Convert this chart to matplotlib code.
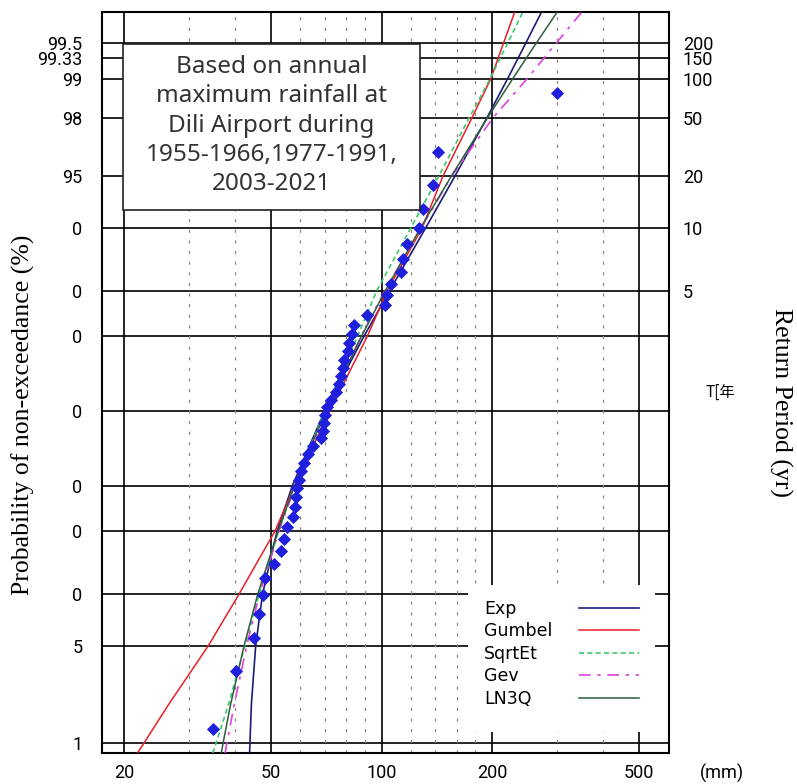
import numpy as np
import matplotlib
matplotlib.use('Agg')
import matplotlib.pyplot as plt
from matplotlib.lines import Line2D
from matplotlib.patches import Rectangle
from matplotlib.ticker import NullLocator
from statistics import NormalDist

# 年最大降雨量 (mm), sorted, Dili Airport
rain_mm = [34.9, 40.2, 45.0, 46.4, 47.5, 48.1, 51.1, 53.2, 54.3, 55.4,
           57.6, 58.2, 58.6, 58.8, 59.5, 60.3, 61.6, 63.3, 65.2, 68.6,
           69.5, 69.7, 70.2, 70.9, 73.0, 75.3, 76.6, 77.7, 78.5, 79.2,
           81.0, 81.7, 83.0, 84.4, 91.3, 102.2, 103.3, 106.1, 113.3, 114.6,
           117.0, 126.5, 129.8, 138.0, 142.5, 299.7]

# fitted curves at these non-exceedance probabilities (%)
curve_p = [0.83, 1, 2, 5, 10, 20, 30, 50, 70, 80, 90, 95, 98, 99, 99.5, 99.74]
exp_mm = [43.8, 43.9, 44.3, 45.5, 47.5, 52.0, 57.2, 70.0, 89.6, 105.1,
          131.7, 158.2, 193.3, 219.9, 246.4, 272.0]
gumbel_mm = [21.7, 22.6, 26.4, 33.8, 41.0, 51.3, 58.0, 72.3, 91.5, 103.5,
             128.8, 146.8, 176.0, 198.0, 214.4, 230.0]
sqrtet_mm = [34.8, 35.5, 38.4, 42.5, 46.5, 52.5, 58.0, 70.0, 86.0, 97.0,
             120.0, 143.0, 173.0, 197.0, 220.0, 242.0]
gev_mm = [37.6, 38.0, 39.8, 43.0, 46.6, 52.6, 58.3, 70.8, 88.0, 102.0,
          128.0, 155.0, 200.7, 248.4, 298.0, 350.0]
ln3q_mm = [36.7, 37.1, 38.9, 42.3, 46.1, 52.3, 58.0, 70.5, 88.2, 102.3,
           127.5, 154.7, 194.0, 227.0, 263.0, 300.0]

prob_ticks = [99.5, 99.33, 99, 98, 95, 90, 80, 70, 50, 30, 20, 10, 5, 1]
prob_labels = ['99.5', '99.33', '99', '98', '95', '0', '0', '0', '0', '0', '0', '0', '5', '1']
rp_ticks = [99.5, 99.33, 99, 98, 95, 90, 80]
rp_labels = ['200', '150', '100', '50', '20', '10', '5']
x_major = [20, 50, 100, 200, 500]
x_minor = [30, 40, 60, 70, 80, 90, 120, 140, 160, 180, 300, 400]

_nd = NormalDist()
_inv = np.vectorize(_nd.inv_cdf, otypes=[float])
_cdf = np.vectorize(_nd.cdf, otypes=[float])


def p2z(p):
    p = np.clip(np.asarray(p, dtype=float) / 100.0, 1e-7, 1 - 1e-7)
    return _inv(p)


def z2p(z):
    return _cdf(np.asarray(z, dtype=float)) * 100.0


tick_font = ['Roboto', 'DejaVu Sans']
W, H = 797, 784
fig = plt.figure(figsize=(W / 100, H / 100), dpi=100)
L, R, T, B = 102, 669, 12.3, 753.3
ax = fig.add_axes([L / W, 1 - B / H, (R - L) / W, (B - T) / H])
ax.set_xscale('log')
ax.set_yscale('function', functions=(p2z, z2p))
ax.set_xlim(17.4, 604)
ax.set_ylim(0.829, 99.739)

# grid
for p in prob_ticks:
    ax.axhline(p, color='k', lw=1.2, zorder=1)
for x in x_major:
    ax.axvline(x, color='k', lw=1.2, zorder=1)
for x in x_minor:
    ax.axvline(x, color='#888888', lw=0.9, ls=(0, (2.5, 6)), zorder=1)

# fitted curves
curves = []
curves += ax.plot(exp_mm, curve_p, color='#1c1c78', lw=1.2, zorder=3, label='Exp')
curves += ax.plot(gumbel_mm, curve_p, color='#e8202a', lw=1.1, zorder=3, label='Gumbel')
curves += ax.plot(sqrtet_mm, curve_p, color='#3cc86e', lw=1.2, ls=(0, (3, 2)), zorder=3, label='SqrtEt')
curves += ax.plot(gev_mm, curve_p, color='#e040e0', lw=1.2, ls=(0, (7, 4, 2, 4)), zorder=3, label='Gev')
curves += ax.plot(ln3q_mm, curve_p, color='#2e5e3e', lw=1.1, zorder=3, label='LN3Q')

# plotting position (Cunnane)
n = len(rain_mm)
plot_pos = [(i - 0.4) / (n + 0.2) * 100 for i in range(1, n + 1)]
ax.plot(rain_mm, plot_pos, 'D', color='#1f1fdc', ms=6, mew=0.6, zorder=4)

# ticks
ax.yaxis.set_minor_locator(NullLocator())
ax.xaxis.set_minor_locator(NullLocator())
ax.set_yticks(prob_ticks, labels=prob_labels, fontsize=13, family=tick_font)
ax.set_xticks(x_major, labels=[str(v) for v in x_major], fontsize=13, family=tick_font)
ax.tick_params(axis='y', length=0, pad=14)
ax.tick_params(axis='x', length=0, pad=8)
for s in ax.spines.values():
    s.set_linewidth(1.5)

ax2 = ax.twinx()
ax2.set_yscale('function', functions=(p2z, z2p))
ax2.set_ylim(ax.get_ylim())
ax2.yaxis.set_minor_locator(NullLocator())
ax2.set_yticks(rp_ticks, labels=rp_labels, fontsize=13, family=tick_font)
ax2.tick_params(axis='y', length=0, pad=10)
for s in ax2.spines.values():
    s.set_visible(False)

# note box
ax.add_patch(Rectangle((0.037, 0.733), 0.524, 0.224, transform=ax.transAxes,
                       fc='white', ec='#222222', lw=1.2, zorder=5))
ax.text(0.299, 0.847,
        'Based on annual\nmaximum rainfall at\nDili Airport during\n1955-1966,1977-1991,\n2003-2021',
        transform=ax.transAxes, ha='center', va='center', fontsize=17.5,
        family='Noto Sans', color='#333333', linespacing=1.3, zorder=6)

# legend (labels left, line samples right)
ax.add_patch(Rectangle((0.6455, 0.0287), 0.3298, 0.1984, transform=ax.transAxes,
                       fc='white', ec='none', zorder=5))
names = [c.get_label() for c in curves]
blank = [Line2D([], [], ls='none') for _ in names]
leg = ax.legend(blank + curves, names + [''] * 5, ncol=2, loc='upper left',
                bbox_to_anchor=(0.557, 0.207), frameon=False, fontsize=12.5,
                handlelength=3.5, handletextpad=0.3, columnspacing=1.52,
                borderpad=0, borderaxespad=0, labelspacing=0.26)
leg.set_zorder(6)

# axis titles
fig.text(23 / W, 1 - 415 / H, 'Probability of non-exceedance (%)', rotation=90,
         ha='center', va='center', fontsize=18.5, family='Liberation Serif')
fig.text(781 / W, 1 - 402 / H, 'Return Period (yr)', rotation=-90,
         ha='center', va='center', fontsize=18.5, family='Liberation Serif')
fig.text(720 / W, 1 - 392 / H, 'T[年', ha='center', va='center', fontsize=11,
         family=['Noto Sans CJK JP', 'DejaVu Sans'])
fig.text(722 / W, 1 - 773 / H, '(mm)', ha='center', va='center', fontsize=13,
         family=tick_font)

fig.savefig('out.png', dpi=100)
